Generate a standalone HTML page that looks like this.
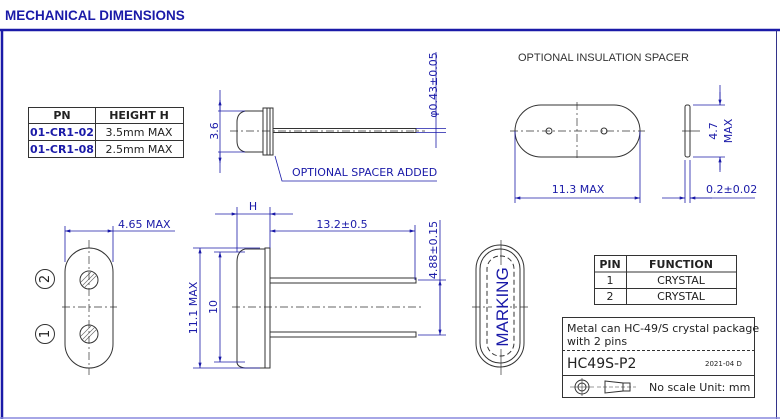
<!DOCTYPE html>
<html><head><meta charset="utf-8"><style>
html,body{margin:0;padding:0;background:#fff}
svg{display:block}
text{font-family:"DejaVu Sans","Liberation Sans",sans-serif}
.b{fill:#1a1aa8}
.k{fill:#222}
</style></head><body>
<svg width="780" height="419" viewBox="0 0 780 419" xmlns="http://www.w3.org/2000/svg">
<defs>
<marker id="a" viewBox="0 0 10 6" refX="10" refY="3" markerWidth="7" markerHeight="4" orient="auto-start-reverse"><path d="M0,0L10,3L0,6z" fill="#1a1aa8"/></marker>
</defs>
<text x="5" y="20" font-size="13.5" font-weight="bold" class="b" style="font-family:'Liberation Sans',sans-serif">MECHANICAL DIMENSIONS</text>
<line x1="0" y1="30" x2="780" y2="30" stroke="#1a1aa8" stroke-width="2.5"/>
<line x1="2" y1="30" x2="2" y2="419" stroke="#1a1aa8" stroke-width="2.5"/>
<line x1="776.5" y1="30" x2="776.5" y2="419" stroke="#33338a" stroke-width="1"/>
<line x1="0" y1="418" x2="780" y2="418" stroke="#8888dd" stroke-width="1.5"/>

<!-- PN table -->
<g stroke="#333" stroke-width="1" fill="none">
<rect x="28.5" y="107.5" width="155" height="50"/>
<line x1="28" y1="123.5" x2="184" y2="123.5"/><line x1="28" y1="140.5" x2="184" y2="140.5"/>
<line x1="95.5" y1="107" x2="95.5" y2="158"/>
</g>
<g font-size="11" style="font-family:'Liberation Sans',sans-serif">
<text x="62" y="119" text-anchor="middle" font-weight="bold" class="k">PN</text>
<text x="139" y="119" text-anchor="middle" font-weight="bold" class="k">HEIGHT  H</text>
<text x="62" y="136" text-anchor="middle" font-weight="bold" class="b">01-CR1-02</text>
<text x="139" y="136" text-anchor="middle" class="k">3.5mm MAX</text>
<text x="62" y="153" text-anchor="middle" font-weight="bold" class="b">01-CR1-08</text>
<text x="139" y="153" text-anchor="middle" class="k">2.5mm MAX</text>
</g>

<!-- side view top -->
<g stroke="#333" stroke-width="1" fill="none">
<path d="M263,111 H245 Q237,113 237,122 V141 Q237,150 245,152 H263"/>
<rect x="263" y="108" width="10" height="47"/>
<line x1="267" y1="108" x2="267" y2="155"/><line x1="270" y1="108" x2="270" y2="155"/>
<rect x="273" y="128.5" width="143" height="4"/>
</g>
<line x1="230" y1="131" x2="425" y2="131" stroke="#333" stroke-width="0.7" stroke-dasharray="8,3,2,3"/>
<g stroke="#1a1aa8" stroke-width="0.8" fill="none">
<line x1="220" y1="90" x2="220" y2="173"/>
<line x1="220" y1="111" x2="220" y2="100" marker-end="url(#a)"/>
<line x1="220" y1="152" x2="220" y2="163" marker-end="url(#a)"/>
<line x1="218" y1="111" x2="245" y2="111"/><line x1="218" y1="152" x2="245" y2="152"/>
<line x1="436" y1="52" x2="436" y2="148"/>
<line x1="416" y1="128.5" x2="446" y2="128.5"/><line x1="416" y1="132.5" x2="446" y2="132.5"/>
<polyline points="275,156 282,181 437,181"/>
</g>
<text transform="translate(218,131) rotate(-90)" text-anchor="middle" font-size="11" class="b">3.6</text>
<text transform="translate(437,85) rotate(-90)" text-anchor="middle" font-size="11" class="b">φ0.43±0.05</text>
<text x="292" y="176" font-size="11" class="b">OPTIONAL SPACER ADDED</text>

<!-- bottom view left -->
<g stroke="#333" stroke-width="1" fill="none">
<rect x="65" y="248" width="48" height="120" rx="24"/>
<circle cx="89" cy="280" r="9"/><circle cx="89" cy="334" r="9"/>
<circle cx="45" cy="279" r="9.5"/><circle cx="45" cy="334" r="9.5"/>
</g>
<g stroke="#666" stroke-width="0.6">
<line x1="82" y1="286" x2="95" y2="273"/><line x1="84" y1="288" x2="97" y2="275"/><line x1="81" y1="282" x2="91" y2="272"/>
<line x1="82" y1="340" x2="95" y2="327"/><line x1="84" y1="342" x2="97" y2="329"/><line x1="81" y1="336" x2="91" y2="326"/>
</g>
<line x1="89" y1="240" x2="89" y2="375" stroke="#333" stroke-width="0.7" stroke-dasharray="8,3,2,3"/>
<line x1="62" y1="307" x2="117" y2="307" stroke="#333" stroke-width="0.7" stroke-dasharray="8,3,2,3"/>
<text transform="translate(49,279) rotate(-90)" text-anchor="middle" font-size="13" class="k">2</text>
<text transform="translate(49,334) rotate(-90)" text-anchor="middle" font-size="13" class="k">1</text>
<g stroke="#1a1aa8" stroke-width="0.8" fill="none">
<line x1="65" y1="226" x2="65" y2="262"/><line x1="113" y1="226" x2="113" y2="262"/>
<line x1="65" y1="231" x2="113" y2="231" marker-start="url(#a)" marker-end="url(#a)"/>
<line x1="113" y1="231" x2="175" y2="231"/>
</g>
<text x="118" y="228" font-size="11" class="b">4.65 MAX</text>

<!-- side view bottom -->
<g stroke="#333" stroke-width="1" fill="none">
<path d="M265,249 H245 Q237,251 237,262 V362 Q237,367 245,368 H265"/>
<rect x="265" y="248" width="5" height="120"/>
<rect x="270" y="278" width="146" height="5"/>
<rect x="270" y="332" width="146" height="5"/>
</g>
<line x1="232" y1="307" x2="422" y2="307" stroke="#333" stroke-width="0.7" stroke-dasharray="8,3,2,3"/>
<g stroke="#1a1aa8" stroke-width="0.8" fill="none">
<line x1="193" y1="248" x2="260" y2="248"/><line x1="193" y1="368" x2="260" y2="368"/>
<line x1="200" y1="248" x2="200" y2="368" marker-start="url(#a)" marker-end="url(#a)"/>
<line x1="214" y1="252" x2="245" y2="252"/><line x1="214" y1="362" x2="245" y2="362"/>
<line x1="220" y1="252" x2="220" y2="362" marker-start="url(#a)" marker-end="url(#a)"/>
<line x1="237" y1="207" x2="237" y2="252"/><line x1="270" y1="207" x2="270" y2="248"/>
<line x1="215" y1="214" x2="237" y2="214" marker-end="url(#a)"/>
<line x1="293" y1="214" x2="270" y2="214" marker-end="url(#a)"/>
<line x1="237" y1="214" x2="270" y2="214"/>
<line x1="415" y1="225" x2="415" y2="280"/>
<line x1="270" y1="231" x2="415" y2="231" marker-start="url(#a)" marker-end="url(#a)"/>
<line x1="418" y1="280" x2="446" y2="280"/><line x1="418" y1="335" x2="446" y2="335"/>
<line x1="440" y1="220" x2="440" y2="335"/>
<line x1="440" y1="280" x2="440" y2="335" marker-start="url(#a)" marker-end="url(#a)"/>
</g>
<text transform="translate(197,308) rotate(-90)" text-anchor="middle" font-size="11" class="b">11.1 MAX</text>
<text transform="translate(217,307) rotate(-90)" text-anchor="middle" font-size="11" class="b">10</text>
<text x="253" y="210" text-anchor="middle" font-size="11" class="b">H</text>
<text x="342" y="228" text-anchor="middle" font-size="11" class="b">13.2±0.5</text>
<text transform="translate(437,250) rotate(-90)" text-anchor="middle" font-size="11" class="b">4.88±0.15</text>

<!-- marking -->
<g stroke="#333" stroke-width="1" fill="none">
<rect x="476" y="245" width="48" height="122" rx="24"/>
<rect x="480" y="249" width="40" height="114" rx="20"/>
<rect x="487" y="256" width="27" height="100" rx="13" stroke-dasharray="5,3"/>
</g>
<line x1="501" y1="240" x2="501" y2="375" stroke="#333" stroke-width="0.7"/>
<line x1="472" y1="307" x2="528" y2="307" stroke="#333" stroke-width="0.7" stroke-dasharray="8,3,2,3"/>
<rect x="492" y="265" width="18" height="84" fill="#fff"/>
<text transform="translate(508,307) rotate(-90)" text-anchor="middle" font-size="17" class="b" style="font-family:'Liberation Sans',sans-serif">MARKING</text>

<!-- pin table -->
<g stroke="#333" stroke-width="1" fill="none">
<rect x="594.5" y="255.5" width="142" height="49"/>
<line x1="594" y1="272" x2="737" y2="272"/><line x1="594" y1="288.5" x2="737" y2="288.5"/>
<line x1="626.5" y1="255" x2="626.5" y2="305"/>
</g>
<g font-size="11" style="font-family:'Liberation Sans',sans-serif" class="k" text-anchor="middle">
<text x="610" y="268" font-weight="bold">PIN</text><text x="681" y="268" font-weight="bold">FUNCTION</text>
<text x="610" y="284">1</text><text x="681" y="284">CRYSTAL</text>
<text x="610" y="300">2</text><text x="681" y="300">CRYSTAL</text>
</g>

<!-- title block -->
<g stroke="#333" stroke-width="1" fill="none">
<rect x="562.5" y="317.5" width="192" height="80"/>
<line x1="562" y1="350.5" x2="755" y2="350.5" stroke-dasharray="3,2"/>
<line x1="562" y1="375.5" x2="755" y2="375.5"/>
<circle cx="582" cy="387" r="7"/><circle cx="582" cy="387" r="4"/>
<path d="M605,381 L623,383 V391 L605,393 Z"/><path d="M623,383 H630 V391 H623"/>
</g>
<g stroke="#333" stroke-width="0.6"><line x1="570" y1="387" x2="594" y2="387"/><line x1="582" y1="378" x2="582" y2="396"/><line x1="597" y1="387" x2="636" y2="387" stroke-dasharray="4,2"/></g>
<g style="font-family:'Liberation Sans',sans-serif" class="k">
<text x="567" y="332" font-size="11">Metal can HC-49/S crystal package</text>
<text x="567" y="345" font-size="11">with 2 pins</text>
<text x="567" y="368" font-size="14">HC49S-P2</text>
<text x="705" y="366" font-size="7">2021-04   D</text>
<text x="649" y="391" font-size="11">No scale   Unit: mm</text>
</g>

<!-- spacer -->
<text x="518" y="61" font-size="11" fill="#333" style="font-family:'Liberation Sans',sans-serif">OPTIONAL INSULATION SPACER</text>
<g stroke="#333" stroke-width="1" fill="none">
<rect x="515" y="105" width="125" height="52" rx="26"/>
<circle cx="549" cy="131" r="3"/><circle cx="604" cy="131" r="3"/>
<rect x="685" y="105" width="5" height="52" rx="2"/>
</g>
<line x1="510" y1="131" x2="645" y2="131" stroke="#333" stroke-width="0.7" stroke-dasharray="8,3,2,3"/>
<line x1="577" y1="102" x2="577" y2="160" stroke="#333" stroke-width="0.7" stroke-dasharray="8,3,2,3"/>
<line x1="682" y1="131" x2="700" y2="131" stroke="#333" stroke-width="0.7"/>
<g stroke="#1a1aa8" stroke-width="0.8" fill="none">
<line x1="515" y1="131" x2="515" y2="203"/><line x1="640" y1="131" x2="640" y2="203"/>
<line x1="515" y1="198" x2="640" y2="198" marker-start="url(#a)" marker-end="url(#a)"/>
<line x1="685" y1="160" x2="685" y2="203"/><line x1="690" y1="160" x2="690" y2="203"/>
<line x1="662" y1="198" x2="685" y2="198" marker-end="url(#a)"/>
<line x1="712" y1="198" x2="690" y2="198" marker-end="url(#a)"/>
<line x1="690" y1="198" x2="755" y2="198"/>
<line x1="693" y1="105" x2="725" y2="105"/><line x1="693" y1="157" x2="725" y2="157"/>
<line x1="720" y1="85" x2="720" y2="105" /><line x1="720" y1="157" x2="720" y2="172"/>
<line x1="720" y1="92" x2="720" y2="105" marker-end="url(#a)"/>
<line x1="720" y1="170" x2="720" y2="157" marker-end="url(#a)"/>
</g>
<text x="578" y="193" text-anchor="middle" font-size="11" class="b">11.3 MAX</text>
<text x="706" y="193" font-size="11" class="b">0.2±0.02</text>
<text transform="translate(717,131) rotate(-90)" text-anchor="middle" font-size="11" class="b">4.7</text>
<text transform="translate(732,131) rotate(-90)" text-anchor="middle" font-size="11" class="b">MAX</text>
</svg>
</body></html>
